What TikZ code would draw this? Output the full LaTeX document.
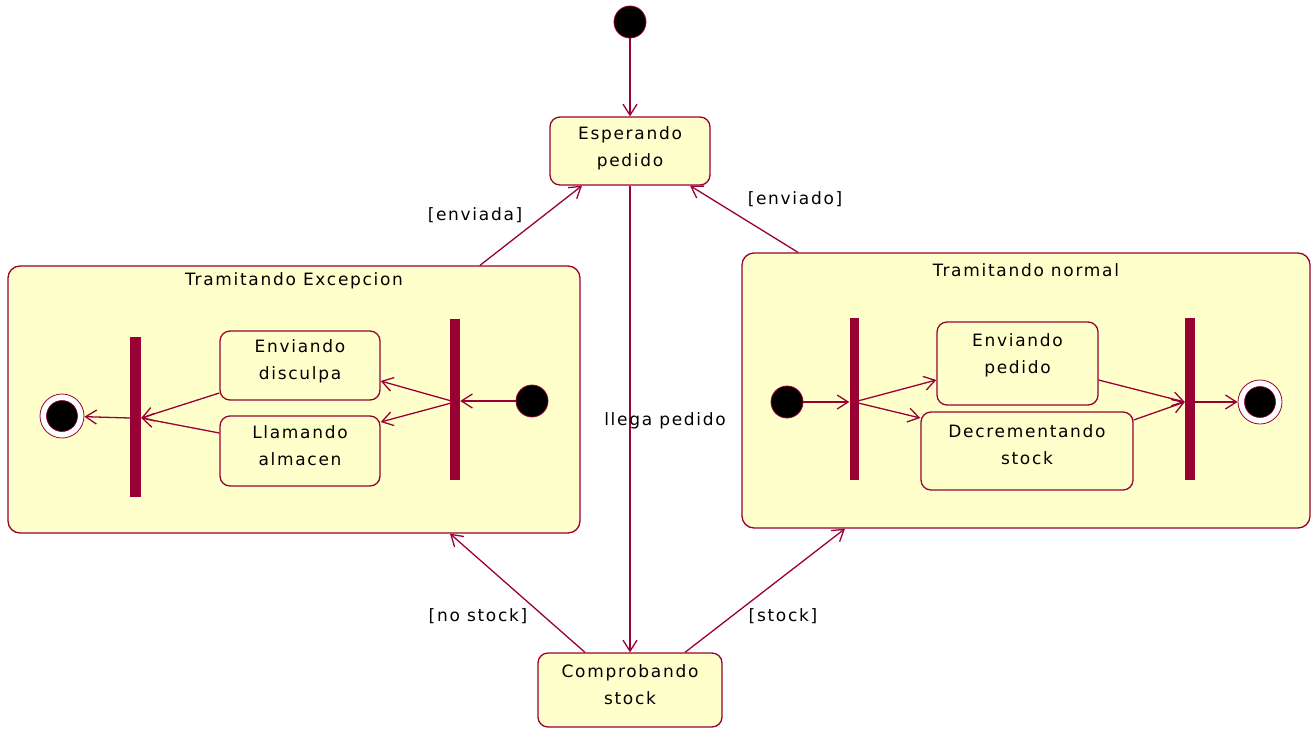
\documentclass[tikz,border=0pt]{standalone}
\usepackage{fontspec}
\setmainfont{DejaVu Sans}[LetterSpace=10]
\usetikzlibrary{arrows.meta}
\definecolor{umlline}{RGB}{153,0,51}
\definecolor{umlfill}{RGB}{255,255,204}
\begin{document}
\begin{tikzpicture}[x=1pt,y=-1pt,
  font=\fontsize{17}{27}\selectfont,
  state/.style={draw=umlline, fill=umlfill, line width=1.3pt, rounded corners=10pt,
                align=center, inner sep=0pt},
  container/.style={draw=umlline, fill=umlfill, line width=1.3pt, rounded corners=12pt,
                inner sep=0pt},
  syncbar/.style={fill=umlline, draw=none, inner sep=0pt},
  startdot/.style={circle, fill=black, draw=umlline, line width=0.8pt,
                minimum size=32pt, inner sep=0pt},
  enddot/.style={circle, fill=white, draw=umlline, line width=0.8pt,
                minimum size=44pt, inner sep=0pt},
  flow/.style={draw=umlline, line width=1.3pt,
                -{Straight Barb[length=11pt,width=14pt]}},
  guard/.style={text=black, inner sep=0pt}]
\useasboundingbox (0,0) rectangle (1316,728);

% composite states
\node[container, minimum width=572pt, minimum height=267pt] (exc) at (294,399.5) {};
\node[container, minimum width=568pt, minimum height=275pt] (nor) at (1026,390.5) {};
\node[guard] (excT) at (294,281) {Tramitando Excepcion};
\node[guard] (norT) at (1026,270) {Tramitando normal};

% top-level states
\node[startdot] (init) at (630,22) {};
\node[state, minimum width=160pt, minimum height=68pt, text depth=8pt] (esp) at (630,151) {Esperando\\pedido};
\node[state, minimum width=184pt, minimum height=74pt, text depth=11pt] (comp) at (630,690) {Comprobando\\stock};

% inside "Tramitando Excepcion"
\node[startdot] (iniE) at (532,401) {};
\node[syncbar, minimum width=10pt, minimum height=161pt] (barER) at (455,399.5) {};
\node[syncbar, minimum width=11pt, minimum height=160pt] (barEL) at (135.5,417) {};
\node[state, minimum width=160pt, minimum height=69pt, text depth=11pt] (disc) at (300,365.5) {Enviando\\disculpa};
\node[state, minimum width=160pt, minimum height=70pt, text depth=10pt] (alm) at (300,451) {Llamando\\almacen};
\node[enddot] (finE) at (62,416) {};
\fill[black, draw=umlline, line width=0.6pt] (finE.center) circle (15.5);

% inside "Tramitando normal"
\node[startdot] (iniN) at (787,402) {};
\node[syncbar, minimum width=9pt, minimum height=162pt] (barNL) at (854,399) {};
\node[syncbar, minimum width=10pt, minimum height=162pt] (barNR) at (1190,399) {};
\node[state, minimum width=161pt, minimum height=83pt, text depth=20pt] (envp) at (1017.5,363.5) {Enviando\\pedido};
\node[state, minimum width=212pt, minimum height=78pt, text depth=12pt] (decr) at (1027,451) {Decrementando\\stock};
\node[enddot] (finN) at (1260,402) {};
\fill[black, draw=umlline, line width=0.6pt] (finN.center) circle (15.5);

% top-level transitions
\draw[flow] (init) -- (esp);
\draw[flow] (esp) -- (comp);
\draw[flow] (exc.north -| 480,0) -- (esp.south -| 582,0);
\draw[flow] (nor.north -| 798,0) -- (esp.south -| 690,0);
\draw[flow] (comp.north -| 585,0) -- (exc.south -| 450,0);
\draw[flow] (comp.north -| 685,0) -- (nor.south -| 845,0);

% transition labels
\node[guard] (lLlega) at (665,421) {llega pedido};
\node[guard] (lEnviada) at (475,215) {[enviada]};
\node[guard] (lEnviado) at (795,199) {[enviado]};
\node[guard] (lNoStock) at (478,616) {[no stock]};
\node[guard] (lStock) at (783,616) {[stock]};

% transitions inside "Tramitando Excepcion"
\draw[flow] (iniE) -- (barER.east |- iniE);
\draw[flow] (barER.center |- 0,402) -- (disc.east |- 0,381);
\draw[flow] (barER.center |- 0,402) -- (alm.east |- 0,422);
\draw[flow] (disc.west |- 0,393) -- (barEL.east |- 0,418);
\draw[flow] (alm.west |- 0,433) -- (barEL.east |- 0,418);
\draw[flow] (barEL.west |- 0,418) -- (finE);

% transitions inside "Tramitando normal"
\draw[flow] (iniN) -- (barNL.west |- iniN);
\draw[flow] (barNL.center |- 0,402) -- (envp.west |- 0,380);
\draw[flow] (barNL.center |- 0,402) -- (decr.west |- 0,418);
\draw[flow] (envp.east |- 0,380) -- (barNR.west |- 0,402);
\draw[flow] (decr.east |- 0,420) -- (barNR.west |- 0,402);
\draw[flow] (barNR.east |- 0,402) -- (finN);
\end{tikzpicture}
\end{document}
